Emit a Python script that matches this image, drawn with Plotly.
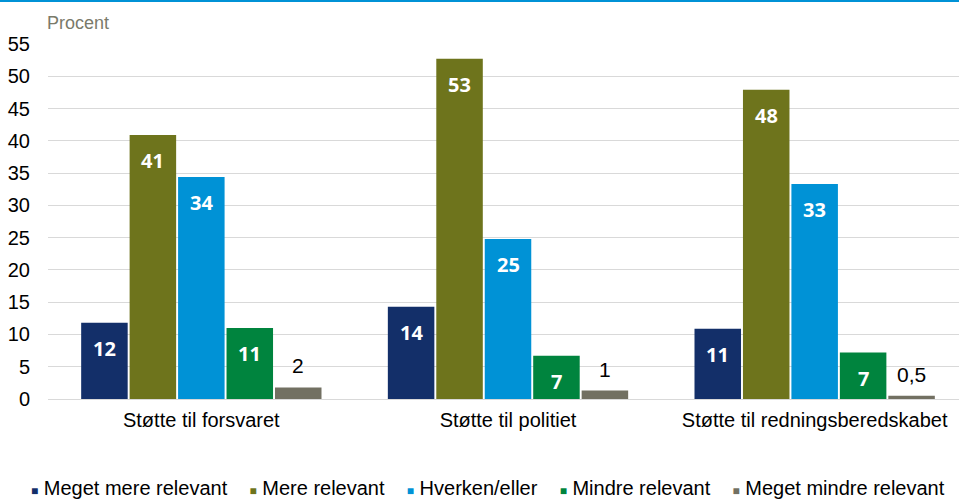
import plotly.graph_objects as go

categories = ["Støtte til forsvaret", "Støtte til politiet", "Støtte til redningsberedskabet"]
series_names = ["Meget mere relevant", "Mere relevant", "Hverken/eller", "Mindre relevant", "Meget mindre relevant"]
meget_mere = [11.8, 14.3, 10.9]
mere = [40.9, 52.7, 47.9]
hverken = [34.4, 24.8, 33.3]
mindre = [11.0, 6.7, 7.2]
meget_mindre = [1.8, 1.3, 0.5]
label_meget_mere = ["12", "14", "11"]
label_mere = ["41", "53", "48"]
label_hverken = ["34", "25", "33"]
label_mindre = ["11", "7", "7"]
label_meget_mindre = ["2", "1", "0,5"]

colors = ["#132f69", "#6e741c", "#0092d6", "#00843e", "#727062"]
values = [meget_mere, mere, hverken, mindre, meget_mindre]
labels = [label_meget_mere, label_mere, label_hverken, label_mindre, label_meget_mindre]

bargap = 0.21
bargroupgap = 0.04
n = len(values)

fig = go.Figure()
for name, vals, col in zip(series_names, values, colors):
    fig.add_trace(go.Bar(x=categories, y=vals, name=name, marker=dict(color=col, line=dict(width=0)),
                         showlegend=False, hoverinfo="skip"))

slot = (1 - bargap) / n
for i, (vals, labs) in enumerate(zip(values, labels)):
    for j, (v, lab) in enumerate(zip(vals, labs)):
        xc = j - (1 - bargap) / 2 + (i + 0.5) * slot
        if i < n - 1:
            fig.add_annotation(x=xc, y=v, xref="x", yref="y", text="<b>%s</b>" % lab, showarrow=False,
                               yanchor="top", yshift=-10,
                               font=dict(family="Open Sans", size=20, color="white"))
        else:
            fig.add_annotation(x=xc, y=v, xref="x", yref="y", text=lab, showarrow=False,
                               yanchor="bottom", yshift=8,
                               font=dict(family="Liberation Sans", size=21, color="black"))

fig.add_annotation(x=-0.003, y=1.059, xref="paper", yref="paper", text="Procent", showarrow=False,
                   xanchor="left", yanchor="middle",
                   font=dict(family="Liberation Sans", size=18, color="#7a7a6a"))

# Legend row (Excel style: small squares close to text)
nb = "\u00a0"
parts = []
for name, col in zip(series_names, colors):
    parts.append('<span style="color:%s;font-size:12px">\u25a0</span>%s%s' % (col, nb, name))
legend_text = (nb * 4).join(parts)
fig.add_annotation(x=0.478, y=-0.25, xref="paper", yref="paper", text=legend_text, showarrow=False,
                   xanchor="center", yanchor="middle",
                   font=dict(family="Liberation Sans", size=20, color="black"))

fig.update_layout(
    width=968, height=499,
    margin=dict(l=48, r=0, t=44, b=100, autoexpand=False),
    paper_bgcolor="white", plot_bgcolor="white",
    barmode="group", bargap=bargap, bargroupgap=bargroupgap,
    font=dict(family="Liberation Sans", size=20, color="black"),
    showlegend=False,
    shapes=[dict(type="line", xref="paper", yref="paper", x0=-0.06, x1=1.01, y0=1.121, y1=1.121,
                 line=dict(color="#0092d6", width=2))],
)

fig.update_yaxes(range=[0, 55], dtick=5, showgrid=True, gridcolor="#d9d9d9", gridwidth=1,
                 zeroline=False, showline=False, ticks="", ticklabelstandoff=17,
                 tickfont=dict(family="Liberation Sans", size=20, color="black"))
fig.update_xaxes(showline=True, linecolor="#d9d9d9", linewidth=1, ticks="", ticklabelstandoff=3,
                 tickfont=dict(family="Liberation Sans", size=20, color="black"))

fig.write_html("out.html", config={"displayModeBar": False},
               post_script="document.body.style.margin='0px';document.body.style.overflow='hidden';")
